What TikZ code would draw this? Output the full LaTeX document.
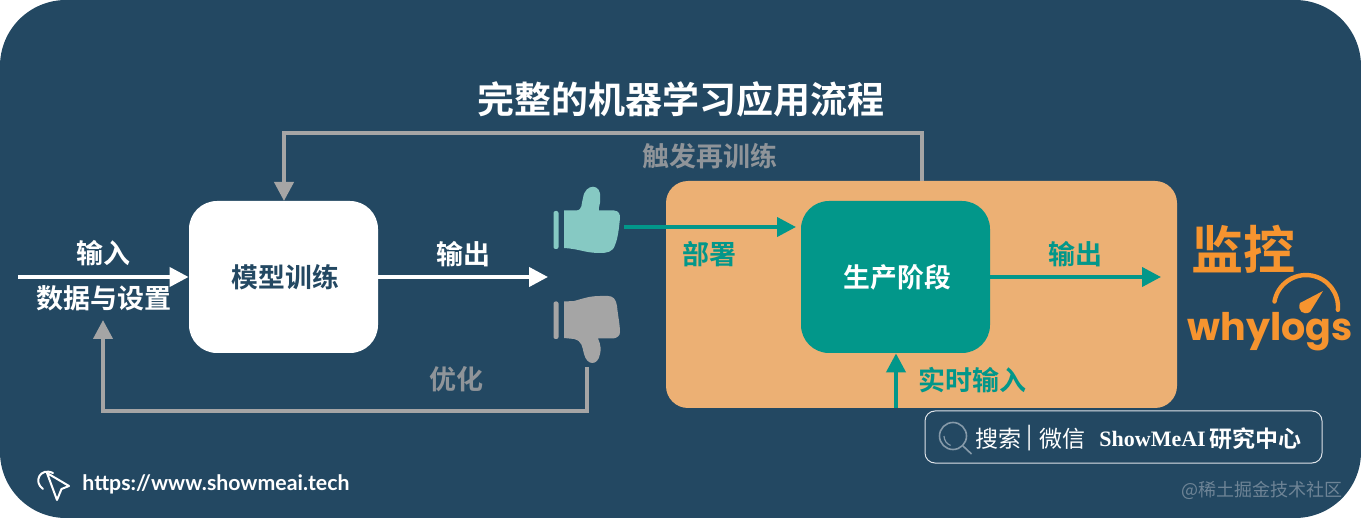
\documentclass[tikz,border=0pt]{standalone}
\usepackage{fontspec}
\setmainfont{Noto Sans CJK SC}[BoldFont={Noto Sans CJK SC Bold}]
\newfontfamily\cjkbold{Noto Sans CJK SC Bold}
\newfontfamily\cjkreg{Noto Sans CJK SC}
\newfontfamily\latinsans{Lato}[BoldFont={Lato Bold}]
\newfontfamily\logofont{Poppins}
\newfontfamily\seriffont{Liberation Serif}[BoldFont={Liberation Serif Bold}]
\usetikzlibrary{arrows.meta,calc}
\definecolor{navy}{HTML}{234862}
\definecolor{sand}{HTML}{ECB074}
\definecolor{teal}{HTML}{02978A}
\definecolor{mint}{HTML}{86C9C3}
\definecolor{greyline}{HTML}{A5A5A5}
\definecolor{greytext}{HTML}{8F9499}
\definecolor{logoorange}{HTML}{F6942F}
\definecolor{stamp}{HTML}{6E8496}
\tikzset{
  x=0.5pt,y=-0.5pt,
  flow/.style={line width=2pt,-{Triangle[length=9.5pt,width=9.5pt]}},
  whiteflow/.style={flow,white},
  tealflow/.style={flow,teal},
  greyflow/.style={flow,greyline},
  lab/.style={font=\cjkbold\fontsize{13.5}{15}\selectfont,inner sep=0pt},
  block/.style={rounded corners=14pt,minimum width=94.5pt,minimum height=76pt,inner sep=0pt,font=\cjkbold\fontsize{13.4}{15}\selectfont},
  pt/.style={inner sep=0pt,minimum size=0pt,outer sep=0pt},
}
\begin{document}
\begin{tikzpicture}
\useasboundingbox (0,0) rectangle (1361,518);
\fill[white] (0,0) rectangle (1361,518);
\fill[navy,rounded corners=33pt] (0,0) rectangle (1361,518);
% production panel
\fill[sand,rounded corners=11pt] (666,181) rectangle (1177,408);
\node[pt] (panelTop) at (922,181) {};
\node[pt] (panelBottom) at (896,408) {};
% title
\node[inner sep=0pt,text=white,font=\cjkbold\fontsize{18.5}{21}\selectfont] (title) at (681,99) {完整的机器学习应用流程};
% blocks
\node[block,fill=white,text=navy] (train) at (283.5,277) {\hspace{2pt}\raisebox{0.5pt}{模型训练}};
\node[block,fill=teal,text=white] (prod) at (895.5,277) {\hspace{2pt}\raisebox{0.5pt}{生产阶段}};
% thumbs up
\fill[mint,rounded corners=1pt] (553.5,211) rectangle (558.5,249);
\fill[mint] (564,210.5) -- (576,210.5) .. controls (583,210) and (581,204) .. (583,198)
  .. controls (585,183) and (602,183) .. (600,198) .. controls (601,204) and (598,207) .. (599,210.5)
  -- (614,210.5) .. controls (619,211) and (620,214) .. (620,218)
  .. controls (619,228) and (618,238) .. (615,245) .. controls (613,252) and (607,253) .. (600,253)
  .. controls (585,253) and (580,249) .. (564,248) -- cycle;
\node[pt] (up) at (624,227) {};
% thumbs down
\fill[greyline,rounded corners=1pt] (553.5,301.5) rectangle (558.5,339);
\fill[greyline] (564,301.5) -- (574,301) .. controls (585,298) and (590,296) .. (600,296)
  -- (608,296) .. controls (613,296) and (616,299) .. (617,306)
  .. controls (618,316) and (620,325) .. (620,332) .. controls (620,336) and (617,338) .. (613,338.5)
  -- (598,338.5) .. controls (601,345) and (601,350) .. (600,354)
  .. controls (598,366) and (587,366) .. (584,354) .. controls (582,346) and (582,341) .. (574,339)
  -- (564,338) -- cycle;
\node[pt] (down) at (587,367) {};
% helper nodes
\node[pt] (inStart) at (18,277) {};
\node[pt] (outEnd) at (548,277) {};
\node[pt] (monEnd) at (1161,277) {};
\node[pt] (upperL) at (284,133) {};
\node[pt] (upperR) at (922,133) {};
\node[pt] (lowerL) at (103,411) {};
\node[pt] (lowerR) at (587,411) {};
\node[pt] (optEnd) at (103,320) {};
\node[pt] (deployEnd) at (796,227) {};
\node[pt] (trainTop) at (284,201) {};
% connectors
\draw[whiteflow] (inStart) -- (train.west);
\draw[whiteflow] (train.east) -- (outEnd);
\draw[greyflow,line join=miter] (panelTop) -- (upperR.center) -- (upperL.center) -- (trainTop);
\draw[greyflow,line join=miter] (down) -- (lowerR.center) -- (lowerL.center) -- (optEnd);
\draw[tealflow] (up) -- (deployEnd);
\draw[tealflow] (prod.east) -- (monEnd);
\draw[tealflow] (panelBottom) -- (prod.south -| panelBottom);
% labels
\node[lab,text=white] (l1) at (103,253.5) {输入};
\node[lab,text=white] (l2) at (104,298) {数据与设置};
\node[lab,text=white] (l3) at (463,254) {输出};
\node[lab,text=greytext] (l4) at (710,156.5) {触发再训练};
\node[lab,text=greytext] (l5) at (456,379) {优化};
\node[lab,text=teal] (l6) at (709,254) {部署};
\node[lab,text=teal] (l7) at (1075,254) {输出};
\node[lab,text=teal] (l8) at (972,380) {实时输入};
% monitor logo
\node[inner sep=0pt,text=logoorange,font=\cjkbold\fontsize{26}{28}\selectfont] (mon) at (1243,249.5) {监控};
\node[inner sep=0pt,text=logoorange,anchor=base,font=\logofont\fontsize{19}{21}\selectfont\bfseries] (why) at (1270,341) {whylogs};
\draw[logoorange,line width=2.2pt,line cap=round] (1274.5,301.5) arc[start angle=170,end angle=-5,radius=16pt];
\fill[logoorange] (1323,291) -- (1310,312) .. controls (1303,316) and (1297,310) .. (1300,303) -- cycle;
% search box
\draw[white!85!navy,line width=0.5pt,rounded corners=5pt] (925,411) rectangle (1322,463);
\draw[white!45!navy,line width=0.8pt] (953,436) circle[radius=13.5];
\draw[white!45!navy,line width=0.8pt] (963,446) -- (971.5,454);
\draw[white!45!navy,line width=0.6pt] (944,436) arc[start angle=180,end angle=110,radius=10];
\node[inner sep=0pt,text=white,anchor=west,font=\cjkreg\fontsize{11.5}{13}\selectfont] (s1) at (975,438.5) {搜索};
\node[inner sep=0pt,text=white,font=\cjkreg\fontsize{11.5}{13}\selectfont] (s2) at (1030,438) {|};
\node[inner sep=0pt,text=white,anchor=west,font=\cjkreg\fontsize{11.5}{13}\selectfont] (s3) at (1039,438.5) {微信};
\node[inner sep=0pt,text=white,anchor=west,font=\seriffont\bfseries\fontsize{11}{13}\selectfont] (s4) at (1099,439) {ShowMeAI};
\node[inner sep=0pt,text=white,anchor=west,font=\cjkbold\fontsize{11.5}{13}\selectfont] (s5) at (1209.5,438.5) {研究中心};
% url
\draw[white,line width=1pt,line join=round] (47,473) -- (69,486) -- (61.5,489) -- (57,500) -- cycle;
\draw[white,line width=1pt,line cap=round] (43,489) .. controls (33,482) and (40,467) .. (53,473);
\node[inner sep=0pt,text=white,anchor=west,font=\latinsans\bfseries\fontsize{10.65}{12}\selectfont] (url) at (82,484) {https://www.showmeai.tech};
% stamp
\node[inner sep=0pt,text=stamp,anchor=east,font=\cjkreg\fontsize{9}{11}\selectfont] (wm) at (1343,490) {@稀土掘金技术社区};
\end{tikzpicture}
\end{document}
